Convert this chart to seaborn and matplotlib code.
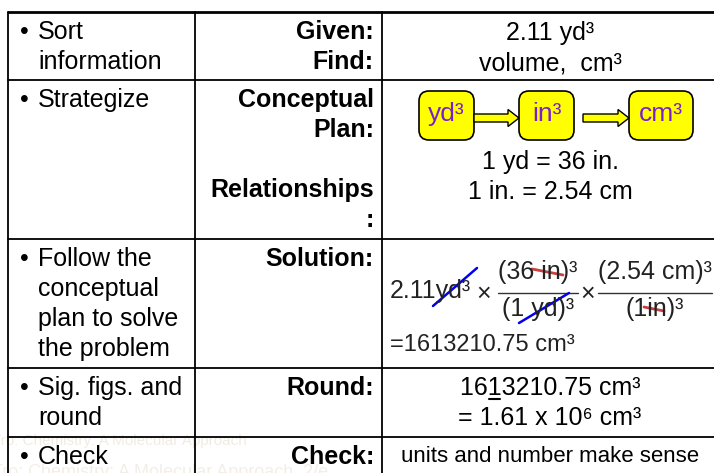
import matplotlib
matplotlib.use('Agg')

import matplotlib.pyplot as plt
import seaborn as sns
from matplotlib.patches import FancyBboxPatch

# table content
steps = [["Sort", "information"], ["Strategize"],
         ["Follow the", "conceptual", "plan to solve", "the problem"],
         ["Sig. figs. and", "round"], ["Check"]]
headers = [["Given:", "Find:"], ["Conceptual", "Plan:", "", "Relationships", ":"],
           ["Solution:"], ["Round:"], ["Check:"]]
given_find = ["2.11 yd³", "volume,  cm³"]
plan_units = ["yd³", "in³", "cm³"]
relationships = ["1 yd = 36 in.", "1 in. = 2.54 cm"]
round_lines = ["1613210.75 cm³", "= 1.61 x 10⁶ cm³"]
underlined_digit = 2  # index of the underlined "1" in 1613210.75
check_text = "units and number make sense"

# layout (pixels)
row_tops = [12, 80, 239, 368, 437, 473]
col_x = [8, 195, 382, 714]
line_h = 30

sns.set_theme(style="white")
plt.rcParams['font.family'] = ['Liberation Sans', 'DejaVu Sans']
plt.rcParams['text.color'] = 'black'

fig = plt.figure(figsize=(7.14, 4.73), dpi=100)
ax = fig.add_axes([0, 0, 1, 1])
ax.set_xlim(0, 714)
ax.set_ylim(473, 0)
ax.axis('off')
renderer = fig.canvas.get_renderer()


def text_width(s, size):
    t = ax.text(0, 0, s, fontsize=size)
    w = t.get_window_extent(renderer).width
    t.remove()
    return w


# watermark
ax.text(-8, 441, "Tro: Chemistry: A Molecular Approach", fontsize=11, color='#f1ece3', va='center', zorder=0)
ax.text(-8, 472, "Tro: Chemistry: A Molecular Approach, 2/e", fontsize=13, color='#f3efe8', va='center', zorder=0)

# grid lines
ax.plot([col_x[0], 714], [row_tops[0], row_tops[0]], color='black', lw=2)
for y in row_tops[1:-1]:
    ax.plot([col_x[0], 714], [y, y], color='black', lw=1.3)
for x in col_x[:3]:
    ax.plot([x, x], [row_tops[0], 473], color='black', lw=1.3)

fs = 18
for i, lines in enumerate(steps):
    y0 = row_tops[i] + 20
    ax.text(20, y0, "•", fontsize=fs, va='center', ha='left')
    for j, t in enumerate(lines):
        ax.text(38, y0 + j * line_h, t, fontsize=fs, va='center', ha='left')
for i, lines in enumerate(headers):
    y0 = row_tops[i] + 20
    for j, t in enumerate(lines):
        ax.text(374, y0 + j * line_h, t, fontsize=fs, va='center', ha='right', fontweight='bold')

cx = 550
for j, t in enumerate(given_find):
    ax.text(cx, 33 + j * line_h, t, fontsize=fs, va='center', ha='center')

# conceptual plan boxes
box_x = [(419, 474), (519, 574), (629, 693)]
for (x0, x1), u in zip(box_x, plan_units):
    ax.add_patch(FancyBboxPatch((x0, 91), x1 - x0, 49, boxstyle="round,pad=0,rounding_size=10",
                                fc='#ffff00', ec='black', lw=1.2))
    ax.text((x0 + x1) / 2, 114, u, fontsize=19, color='#7a1fd0', ha='center', va='center')
for xs, xe in [(474, 519), (583, 629)]:
    ax.arrow(xs, 118, xe - xs, 0, width=8, head_width=17, head_length=11,
             length_includes_head=True, fc='#ffff00', ec='black', lw=1)

for j, t in enumerate(relationships):
    ax.text(cx, 162 + j * line_h, t, fontsize=fs, va='center', ha='center')

# solution
sfs = 18
ax.text(390, 291, "2.11yd³", fontsize=sfs, va='center', ha='left', color='#222222')
ax.text(484, 294, "×", fontsize=sfs, va='center', ha='center', color='#222222')
ax.text(538, 272, "(36 in)³", fontsize=sfs, va='center', ha='center', color='#222222')
ax.text(538, 309, "(1 yd)³", fontsize=sfs, va='center', ha='center', color='#222222')
ax.plot([498, 578], [293, 293], color='#333333', lw=1)
ax.text(588, 294, "×", fontsize=sfs, va='center', ha='center', color='#222222')
ax.text(655, 272, "(2.54 cm)³", fontsize=sfs, va='center', ha='center', color='#222222')
ax.text(655, 309, "(1in)³", fontsize=sfs, va='center', ha='center', color='#222222')
ax.plot([598, 712], [293, 293], color='#333333', lw=1)
ax.text(390, 345, "=1613210.75 cm³", fontsize=17, va='center', ha='left', color='#222222')
ax.plot([433, 477], [306, 268], color='#0000ee', lw=1.8)
ax.plot([519, 569], [323, 293], color='#0000ee', lw=1.8)
ax.plot([532, 563], [269, 275], color='#c84040', lw=2)
ax.plot([644, 664], [307, 311], color='#c84040', lw=2)

for j, t in enumerate(round_lines):
    ax.text(cx, 388 + j * line_h, t, fontsize=fs, va='center', ha='center')
# underline the last significant digit
full_w = text_width(round_lines[0], fs)
u0 = cx - full_w / 2 + text_width(round_lines[0][:underlined_digit], fs)
u1 = cx - full_w / 2 + text_width(round_lines[0][:underlined_digit + 1], fs)
ax.plot([u0 + 1, u1 - 1], [399, 399], color='black', lw=1.5)
ax.text(cx, 456, check_text, fontsize=16, va='center', ha='center')

plt.savefig('out.png', dpi=100)
plt.close()
